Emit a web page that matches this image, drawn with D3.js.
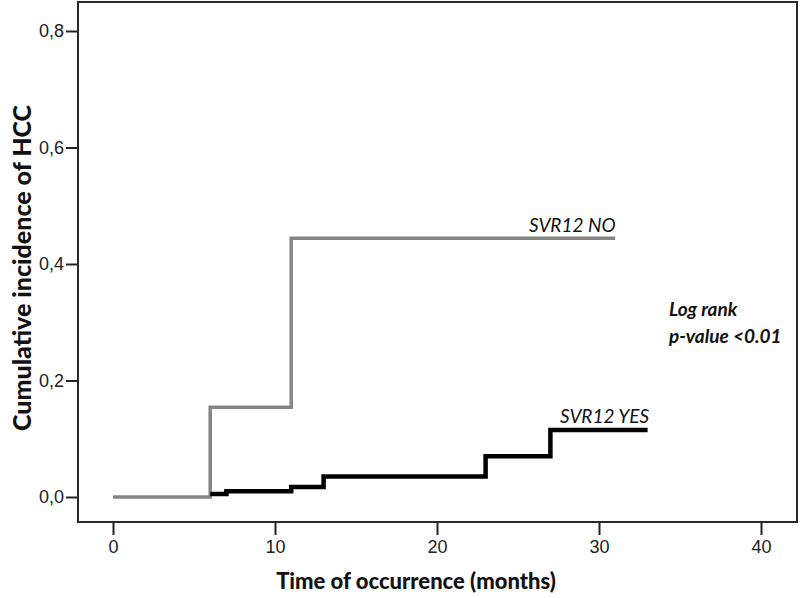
<!DOCTYPE html>
<html>
<head>
<meta charset="utf-8">
<title>Cumulative incidence of HCC</title>
<style>
  body { margin:0; background:#fff; }
  svg { display:block; }
  .axis text { font-family:"Liberation Sans", Arial, sans-serif; font-size:18px; fill:#222; }
  .axis line { stroke:#222; stroke-width:2; }
  .axis path { display:none; }
  .title { font-family:Lato, "Open Sans", sans-serif; font-weight:900; font-size:22px; fill:#111; text-anchor:middle; }
  .ytitle { font-size:25px; }
  .lab { font-family:Lato, "Open Sans", sans-serif; font-style:italic; font-size:19px; fill:#111; }
  .bold { font-weight:bold; }
</style>
<script src="https://d3js.org/d3.v7.min.js"></script>
</head>
<body>
<svg id="chart" width="800" height="598"></svg>
<script>
// data
var xTicks = [0, 10, 20, 30, 40];
var yTicks = [0, 0.2, 0.4, 0.6, 0.8];
var timesNo = [0, 6, 11, 31];
var valuesNo = [0, 0.154, 0.444, 0.444];
var timesYes = [6, 7, 11, 13, 23, 27, 33];
var valuesYes = [0.005, 0.01, 0.017, 0.035, 0.07, 0.115, 0.115];

var svg = d3.select("#chart");

var x = d3.scaleLinear().domain([0, 40]).range([113, 761]);
var y = d3.scaleLinear().domain([0, 0.8]).range([497, 31]);

// frame
svg.append("rect")
  .attr("x", 78).attr("y", 2)
  .attr("width", 719).attr("height", 520)
  .attr("fill", "none").attr("stroke", "#2a2a2a").attr("stroke-width", 2);

// y axis
svg.append("g")
  .attr("class", "axis")
  .attr("transform", "translate(78,0)")
  .call(d3.axisLeft(y).tickValues(yTicks).tickSize(12).tickPadding(2)
    .tickFormat(function(d){ return d3.format(".1f")(d).replace(".", ","); }));

// x axis
svg.append("g")
  .attr("class", "axis")
  .attr("transform", "translate(0,522)")
  .call(d3.axisBottom(x).tickValues(xTicks).tickSize(13).tickPadding(5)
    .tickFormat(d3.format("d")));

// step lines
var line = d3.line()
  .x(function(d){ return x(d[0]); })
  .y(function(d){ return y(d[1]); })
  .curve(d3.curveStepAfter);

svg.append("path")
  .datum(d3.zip(timesNo, valuesNo))
  .attr("d", line)
  .attr("fill", "none").attr("stroke", "#858585").attr("stroke-width", 3.5);

svg.append("path")
  .datum(d3.zip(timesYes, valuesYes))
  .attr("d", line)
  .attr("fill", "none").attr("stroke", "#000").attr("stroke-width", 4.5);

// titles
svg.append("text").attr("class", "title")
  .attr("x", 416).attr("y", 589)
  .text("Time of occurrence (months)");

svg.append("text").attr("class", "title ytitle")
  .attr("transform", "translate(31,268) rotate(-90)")
  .text("Cumulative incidence of HCC");

// annotations
svg.append("text").attr("class", "lab").attr("x", 529).attr("y", 232).text("SVR12 NO");
svg.append("text").attr("class", "lab").attr("x", 560).attr("y", 423).text("SVR12 YES");
svg.append("text").attr("class", "lab bold").attr("x", 669).attr("y", 316).text("Log rank");
svg.append("text").attr("class", "lab bold").attr("x", 669).attr("y", 343).text("p-value <0.01");
</script>
</body>
</html>
